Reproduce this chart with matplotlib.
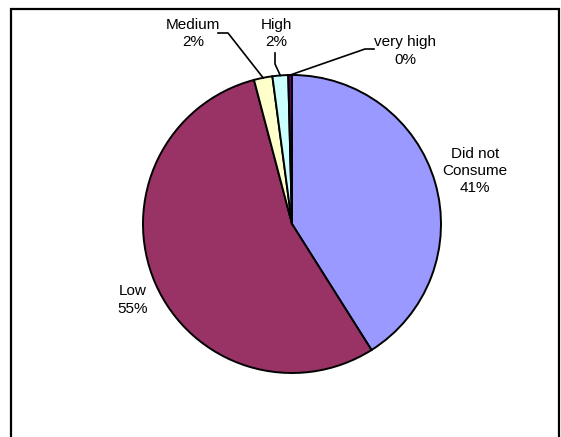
import numpy as np
import matplotlib.pyplot as plt

# consumption categories, clockwise from 12 o'clock
categories = ['Did not\nConsume', 'Low', 'Medium', 'High', 'very high']
shares = [41.0, 54.8, 2.0, 1.7, 0.4]
colors = ['#9999FF', '#993366', '#FFFFCC', '#CCFFFF', '#660066']

W, H = 561, 437
plt.rcParams['font.family'] = ['Liberation Sans', 'DejaVu Sans']

fig = plt.figure(figsize=(W / 100, H / 100), dpi=100)
ax = fig.add_axes([0, 0, 1, 1])

cx, cy, r = 292, H - 224, 149
wedges, _ = ax.pie(shares, colors=colors, startangle=90, counterclock=False,
                   center=(cx, cy), radius=r, frame=True,
                   wedgeprops=dict(edgecolor='black', linewidth=1.4))
ax.set_xlim(0, W)
ax.set_ylim(0, H)
ax.set_aspect('equal')
ax.axis('off')

total = sum(shares)
pct = [f'{100 * s / total:.0f}%' for s in shares]


def edge_point(w):
    mid = np.deg2rad((w.theta1 + w.theta2) / 2)
    return cx + r * np.cos(mid), cy + r * np.sin(mid)


fs = 11
# label placement (x, y in pixels from top-left)
label_pos = [(475, 171), (133, 300), (193, 33.5), (276, 33.5), (405, 51)]
for name, p, (lx, ly) in zip(categories, pct, label_pos):
    ax.text(lx, H - ly, f'{name}\n{p}', ha='center', va='center',
            fontsize=fs, linespacing=1.3)

# leader lines for the thin slices
ex, ey = edge_point(wedges[2])
ax.plot([218, 228, ex], [H - 33, H - 33, ey], color='black', lw=1.2)
ex, ey = edge_point(wedges[3])
ax.plot([275, 275, ex], [H - 53, H - 64, ey], color='black', lw=1.2)
ex, ey = edge_point(wedges[4])
ax.plot([374, 365, ex], [H - 49, H - 49, ey], color='black', lw=1.2)

# outer border (open at the bottom)
ax.plot([11, 11, 559.5, 559.5], [0, H - 9, H - 9, 0], color='black', lw=1.6,
        solid_joinstyle='miter', clip_on=False)

fig.savefig('out.png', dpi=100)
